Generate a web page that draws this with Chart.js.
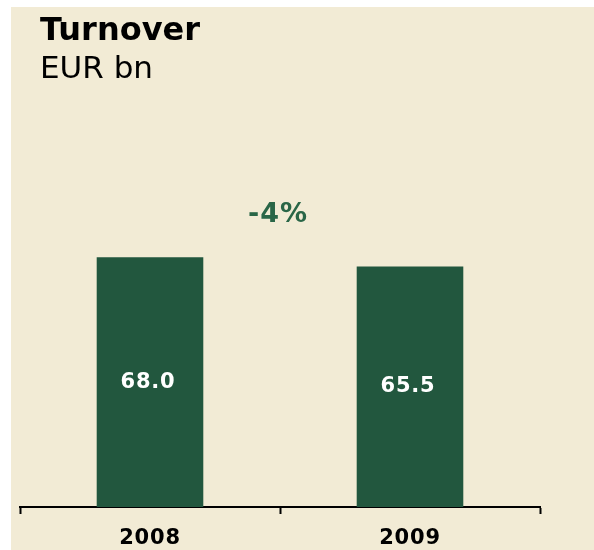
<!DOCTYPE html>
<html>
<head>
<meta charset="utf-8">
<script src="https://cdn.jsdelivr.net/npm/chart.js@4"></script>
<style>
  html, body { margin: 0; padding: 0; background: #ffffff; }
  #panel { position: absolute; left: 11px; top: 7px; width: 583px; height: 543px; background: #f2ebd5; }
  #wrap { position: absolute; left: 0; top: 0; width: 594px; height: 550px; }
</style>
</head>
<body>
<div id="panel"></div>
<div id="wrap"><canvas id="chart" width="594" height="550"></canvas></div>
<script>
// chart data
const years = ['2008', '2009'];
const turnover = [68.0, 65.5];
const titleText = 'Turnover';
const unitText = 'EUR bn';

const barColor = '#22573e';
const fontFamily = '"DejaVu Sans", Verdana, sans-serif';

// change between the two years, shown above the bars
const changePct = Math.round((turnover[1] - turnover[0]) / turnover[0] * 100);

// a touch of letter spacing for the axis labels (Verdana-like look)
const spacingPlugin = {
  id: 'spacing',
  beforeDraw(chart) {
    chart.ctx.letterSpacing = '0.8px';
  }
};

// draws headings, value labels and the change label
const labelPlugin = {
  id: 'labels',
  afterDraw(chart) {
    const c = chart.ctx;
    const meta = chart.getDatasetMeta(0);
    const yScale = chart.scales.y;
    c.save();

    // headings
    c.letterSpacing = '0px';
    c.fillStyle = '#000000';
    c.textAlign = 'left';
    c.textBaseline = 'alphabetic';
    c.font = 'bold 32px ' + fontFamily;
    c.fillText(titleText, 40, 40);
    c.font = '31px ' + fontFamily;
    c.fillText(unitText, 40, 78);

    // values inside bars
    c.letterSpacing = '0.8px';
    c.fillStyle = '#ffffff';
    c.textAlign = 'center';
    c.textBaseline = 'middle';
    c.font = 'bold 21px ' + fontFamily;
    meta.data.forEach((bar, i) => {
      const mid = (bar.y + bar.base) / 2;
      c.fillText(turnover[i].toFixed(1), bar.x - 2, mid);
    });

    // change label
    const xMid = (meta.data[0].x + meta.data[1].x) / 2;
    const yTop = yScale.getPixelForValue(Math.max(...turnover));
    c.letterSpacing = '1px';
    c.fillStyle = '#2a6647';
    c.font = 'bold 27px ' + fontFamily;
    c.textBaseline = 'alphabetic';
    c.fillText((changePct > 0 ? '+' : '') + changePct + '%', xMid - 2, yTop - 35);
    c.restore();
  }
};

const ctx = document.getElementById('chart').getContext('2d');
const chart = new Chart(ctx, {
  type: 'bar',
  data: {
    labels: years,
    datasets: [{
      data: turnover,
      backgroundColor: barColor,
      borderWidth: 0,
      categoryPercentage: 1,
      barPercentage: 0.41
    }]
  },
  options: {
    responsive: false,
    animation: false,
    layout: { padding: { left: 20, right: 54, top: 103, bottom: 0 } },
    plugins: {
      legend: { display: false },
      tooltip: { enabled: false },
      title: { display: false }
    },
    scales: {
      x: {
        offset: true,
        grid: {
          offset: true,
          drawOnChartArea: false,
          drawTicks: true,
          tickLength: 7,
          tickWidth: 2,
          tickColor: '#000000'
        },
        border: { display: true, color: '#000000', width: 2 },
        ticks: {
          color: '#000000',
          padding: 12,
          font: { family: fontFamily, size: 21, weight: 'bold' }
        },
        afterFit(scale) { scale.height = 43; }
      },
      y: {
        display: false,
        min: 0,
        max: 110
      }
    }
  },
  plugins: [spacingPlugin, labelPlugin]
});
</script>
</body>
</html>
